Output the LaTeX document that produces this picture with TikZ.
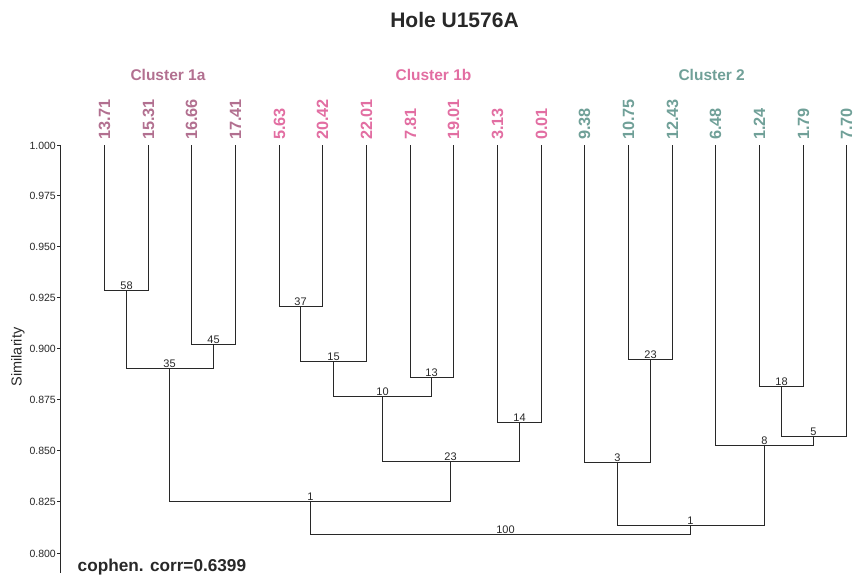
\documentclass[tikz,border=0pt]{standalone}
\usepackage{fontspec}
\setmainfont{Liberation Sans}
\definecolor{ca}{RGB}{178,112,144}
\definecolor{cb}{RGB}{226,110,162}
\definecolor{cc}{RGB}{112,160,152}
\definecolor{ink}{RGB}{40,40,40}
\begin{document}
\begin{tikzpicture}[x=1pt,y=-1pt,
  branch/.style={draw=ink,line width=1.7pt},
  axisline/.style={draw=ink,line width=1.2pt},
  leaflab/.style={rotate=90,anchor=west,inner sep=0pt,font=\bfseries\fontsize{16.3}{16.3}\selectfont},
  bootlab/.style={anchor=south,inner sep=0.8pt,font=\fontsize{11}{11}\selectfont,text=ink},
  ticklab/.style={anchor=east,inner sep=0pt,font=\fontsize{10.5}{10.5}\selectfont,text=ink},
  clusterlab/.style={anchor=base,inner sep=0pt,font=\bfseries\fontsize{15.5}{15.5}\selectfont}]
\useasboundingbox (0,0) rectangle (856,578);

% title
\node[anchor=base,inner sep=0pt,font=\bfseries\fontsize{21}{21}\selectfont,text=ink] (title) at (454.5,27.3) {Hole U1576A};

% cluster labels
\node[clusterlab,text=ca] (cl1a) at (168,80) {Cluster 1a};
\node[clusterlab,text=cb] (cl1b) at (433.5,80) {Cluster 1b};
\node[clusterlab,text=cc] (cl2) at (711.7,80) {Cluster 2};

% leaves
\foreach \i/\x/\t/\c in {0/104.5/13.71/ca,1/148.5/15.31/ca,2/191.5/16.66/ca,3/235.5/17.41/ca,
  4/279.5/5.63/cb,5/322.5/20.42/cb,6/366.5/22.01/cb,7/410.5/7.81/cb,8/453.5/19.01/cb,
  9/497.5/3.13/cb,10/541.5/0.01/cb,11/584.5/9.38/cc,12/628.5/10.75/cc,13/672.5/12.43/cc,
  14/715.5/6.48/cc,15/759.5/1.24/cc,16/803.5/1.79/cc,17/846.5/7.70/cc}{
  \coordinate (L\i) at (\x,145);
  \node[leaflab,text=\c] (T\i) at (\x,140) {\t};
}

% merge points
\coordinate (m58) at (126.5,290.5);
\coordinate (m45) at (213.5,344.5);
\coordinate (m35) at (169.5,368.5);
\coordinate (m37) at (300.5,306.5);
\coordinate (m15) at (333.5,361.5);
\coordinate (m13) at (431.5,377.5);
\coordinate (m10) at (382.5,396.5);
\coordinate (m14) at (519.5,422.5);
\coordinate (m23a) at (450.5,461.5);
\coordinate (m1a) at (310.5,501.5);
\coordinate (m23b) at (650.5,359.5);
\coordinate (m3) at (617.5,462.5);
\coordinate (m18) at (781.5,386.5);
\coordinate (m5) at (813.5,436.5);
\coordinate (m8) at (764.5,445.5);
\coordinate (m1b) at (690.5,525.5);
\coordinate (m100) at (500.5,534.5);

% branches
\draw[branch] (L0) |- (m58) -| (L1);
\draw[branch] (L2) |- (m45) -| (L3);
\draw[branch] (m58) |- (m35) -| (m45);
\draw[branch] (L4) |- (m37) -| (L5);
\draw[branch] (m37) |- (m15) -| (L6);
\draw[branch] (L7) |- (m13) -| (L8);
\draw[branch] (m15) |- (m10) -| (m13);
\draw[branch] (L9) |- (m14) -| (L10);
\draw[branch] (m10) |- (m23a) -| (m14);
\draw[branch] (m35) |- (m1a) -| (m23a);
\draw[branch] (L12) |- (m23b) -| (L13);
\draw[branch] (L11) |- (m3) -| (m23b);
\draw[branch] (L15) |- (m18) -| (L16);
\draw[branch] (m18) |- (m5) -| (L17);
\draw[branch] (L14) |- (m8) -| (m5);
\draw[branch] (m3) |- (m1b) -| (m8);
\draw[branch] (m1a) |- (m100) -| (m1b);

% bootstrap labels
\node[bootlab] (b58) at (m58) {58};
\node[bootlab] (b45) at (m45) {45};
\node[bootlab] (b35) at (m35) {35};
\node[bootlab] (b37) at (m37) {37};
\node[bootlab] (b15) at (m15) {15};
\node[bootlab] (b13) at (m13) {13};
\node[bootlab] (b10) at (m10) {10};
\node[bootlab] (b14) at (m14) {14};
\node[bootlab] (b23a) at (m23a) {23};
\node[bootlab] (b1a) at (m1a) {1};
\node[bootlab] (b23b) at (m23b) {23};
\node[bootlab] (b3) at (m3) {3};
\node[bootlab] (b18) at (m18) {18};
\node[bootlab] (b5) at (m5) {5};
\node[bootlab] (b8) at (m8) {8};
\node[bootlab] (b1b) at (m1b) {1};
\node[bootlab,xshift=5pt] (b100) at (m100) {100};

% axis
\coordinate (ax0) at (60.5,145);
\coordinate (ax1) at (60.5,572.5);
\draw[axisline] (ax0) -- (ax1);
\foreach \i/\v/\y in {0/1.000/145.5,1/0.975/195.5,2/0.950/246.5,3/0.925/297.5,4/0.900/348.5,
  5/0.875/399.5,6/0.850/450.5,7/0.825/501.5,8/0.800/553.5}{
  \coordinate (tk\i) at (60.5,\y);
  \coordinate (tl\i) at (57,\y);
  \draw[axisline] (tl\i) -- (tk\i);
  \node[ticklab] (tv\i) at (56,\y) {\v};
}
\node[rotate=90,inner sep=0pt,font=\fontsize{14.5}{14.5}\selectfont,text=ink] (ytitle) at (18,357) {Similarity};

% cophenetic correlation
\node[anchor=base west,inner sep=0pt,font=\bfseries\fontsize{17.2}{17.2}\selectfont,text=ink] (coph) at (77.5,571) {cophen. corr=0.6399};
\end{tikzpicture}
\end{document}
